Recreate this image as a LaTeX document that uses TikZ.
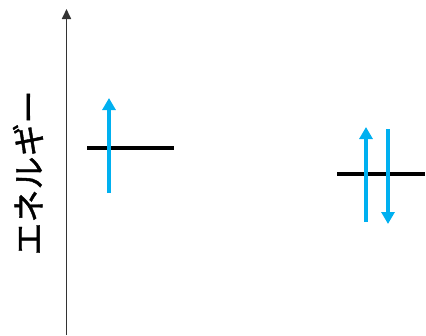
\documentclass[tikz,border=0pt]{standalone}
\usepackage{fontspec}
\newfontfamily\jpfont[FakeBold=1.2]{Noto Sans CJK JP}
\usetikzlibrary{arrows.meta}
\definecolor{spin}{RGB}{0,176,240}
\tikzset{
  axis/.style={draw=black!80, line width=1.7pt, -{Triangle[length=10pt,width=9pt]}},
  level/.style={draw=black, line width=3.2pt},
  spinarrow/.style={draw=spin, line width=4.4pt, -{Triangle[length=12pt,width=13pt]}, shorten >=-1pt},
}
\begin{document}
\begin{tikzpicture}[x=1pt,y=-1pt]
\useasboundingbox (0,0) rectangle (426,335);
\coordinate (ax0) at (66.5,335);
\coordinate (ax1) at (66.5,9);
\draw[axis] (ax0) -- (ax1);
\node[rotate=90, font=\jpfont\fontsize{33}{33}\selectfont, inner sep=0pt] (lab) at (28,173) {エネルギー};
% left level
\coordinate (l0) at (87,148);
\coordinate (l1) at (174,148);
\draw[level] (l0) -- (l1);
\coordinate (a0) at (109,193);
\coordinate (a1) at (109,99);
\draw[spinarrow] (a0) -- (a1);
% right level
\coordinate (r0) at (337,174);
\coordinate (r1) at (425,174);
\draw[level] (r0) -- (r1);
\coordinate (b0) at (366,222);
\coordinate (b1) at (366,128);
\draw[spinarrow] (b0) -- (b1);
\coordinate (c0) at (388,129);
\coordinate (c1) at (388,223);
\draw[spinarrow] (c0) -- (c1);
\end{tikzpicture}
\end{document}
